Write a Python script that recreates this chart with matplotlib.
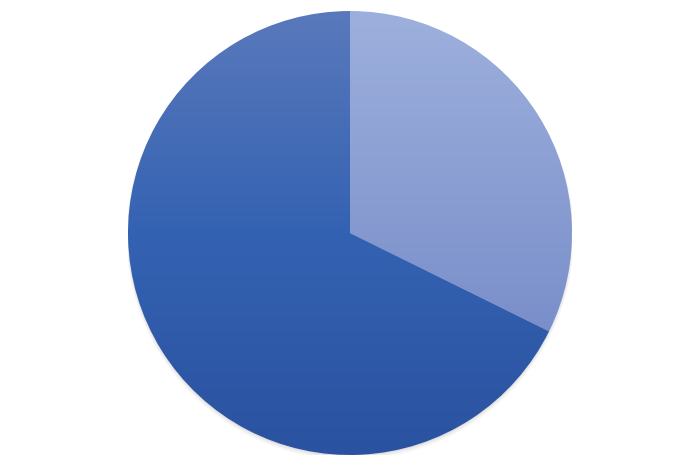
import numpy as np
import matplotlib.pyplot as plt
from matplotlib.colors import LinearSegmentedColormap
from matplotlib.patches import Circle

# slice shares
labels = ["A", "B"]
values = [32.3, 67.7]

# vertical gradients for each slice (top colour -> bottom colour)
grad_light = ["#9DB0DD", "#7A8FCA"]
grad_dark = ["#5A79BC", "#3462B2", "#2A52A0"]

fig = plt.figure(figsize=(7, 4.66), dpi=100)
ax = fig.add_axes([128 / 700, 11 / 466, 444 / 700, 444 / 466])
ax.set_xlim(-1.0, 1.0)
ax.set_ylim(-1.0, 1.0)
ax.set_aspect("equal")
ax.axis("off")

# soft shadow under the pie
for i, a in enumerate([0.05, 0.04, 0.03]):
    ax.add_patch(Circle((0.0, -0.006 - 0.004 * i), 1.0 + 0.004 * i,
                        facecolor="black", alpha=a, edgecolor="none", zorder=0))

wedges, _ = ax.pie(values, labels=None, startangle=90, counterclock=False,
                   radius=1.0, wedgeprops=dict(edgecolor="none", linewidth=0))

grad = np.linspace(0, 1, 256).reshape(-1, 1)
for w, cols in zip(wedges, [grad_light, grad_dark]):
    cmap = LinearSegmentedColormap.from_list("g", cols)
    w.set_facecolor("none")
    verts = w.get_path().vertices
    ymin, ymax = verts[:, 1].min(), verts[:, 1].max()
    im = ax.imshow(grad, cmap=cmap, extent=[-1, 1, ymin, ymax], origin="upper",
                   aspect="auto", zorder=2)
    im.set_clip_path(w)

ax.set_xlim(-1.0, 1.0)
ax.set_ylim(-1.0, 1.0)

fig.savefig("out.png", dpi=100, facecolor="white")
